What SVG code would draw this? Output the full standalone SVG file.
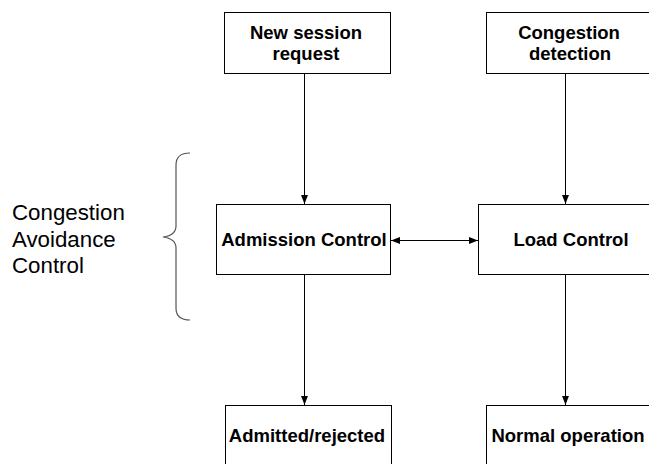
<svg xmlns="http://www.w3.org/2000/svg" width="649" height="464" viewBox="0 0 649 464">
  <style>
    .box { fill: #ffffff; stroke: #000000; stroke-width: 1; }
    .lbl { font-family: "Liberation Sans", Arial, sans-serif; font-size: 18.5px; font-weight: bold; fill: #000000; text-anchor: middle; }
    .side { font-family: "Liberation Sans", Arial, sans-serif; font-size: 22.3px; fill: #000000; }
    .edge { fill: none; stroke: #000000; stroke-width: 1; }
    .brace { fill: none; stroke: #555555; stroke-width: 1.2; }
  </style>
  <defs>
    <marker id="arrow" viewBox="0 0 10 10" refX="10" refY="5" markerWidth="9" markerHeight="9" markerUnits="userSpaceOnUse" orient="auto-start-reverse">
      <path d="M0,1.2 L10,5 L0,8.8 Z" fill="#000000"/>
    </marker>
  </defs>
  <rect width="649" height="464" fill="#ffffff"/>

  <!-- grouping brace and its caption -->
  <g id="cac-label">
    <path class="brace" d="M190,153 C181,153 176,157 176,165 L176,226 C176,233 171,236 163,237 C171,238 176,241 176,248 L176,308 C176,316 181,320 190,320"/>
    <text class="side" x="12" y="220">Congestion</text>
    <text class="side" x="12" y="246.5">Avoidance</text>
    <text class="side" x="12" y="273">Control</text>
  </g>

  <g id="new-session">
    <rect class="box" x="224.5" y="12.5" width="166" height="61"/>
    <text class="lbl" x="306" y="39">New session</text>
    <text class="lbl" x="306" y="60">request</text>
  </g>

  <g id="congestion-detection">
    <rect class="box" x="486.5" y="12.5" width="166" height="61"/>
    <text class="lbl" x="569" y="39">Congestion</text>
    <text class="lbl" x="570" y="60">detection</text>
  </g>

  <g id="admission-control">
    <rect class="box" x="216.5" y="204.5" width="174" height="70"/>
    <text class="lbl" x="304" y="246">Admission Control</text>
  </g>

  <g id="load-control">
    <rect class="box" x="478.5" y="204.5" width="174" height="70"/>
    <text class="lbl" x="571" y="246">Load Control</text>
  </g>

  <g id="admitted-rejected">
    <rect class="box" x="225.5" y="405.5" width="166" height="80"/>
    <text class="lbl" x="307" y="442">Admitted/rejected</text>
  </g>

  <g id="normal-operation">
    <rect class="box" x="486.5" y="405.5" width="166" height="80"/>
    <text class="lbl" x="568" y="442">Normal operation</text>
  </g>

  <g id="connectors">
    <line class="edge" x1="304.5" y1="74" x2="304.5" y2="204" marker-end="url(#arrow)"/>
    <line class="edge" x1="565.5" y1="74" x2="565.5" y2="204" marker-end="url(#arrow)"/>
    <line class="edge" x1="391" y1="240.5" x2="478" y2="240.5" marker-start="url(#arrow)" marker-end="url(#arrow)"/>
    <line class="edge" x1="304.5" y1="275" x2="304.5" y2="405" marker-end="url(#arrow)"/>
    <line class="edge" x1="565.5" y1="275" x2="565.5" y2="405" marker-end="url(#arrow)"/>
  </g>
</svg>
